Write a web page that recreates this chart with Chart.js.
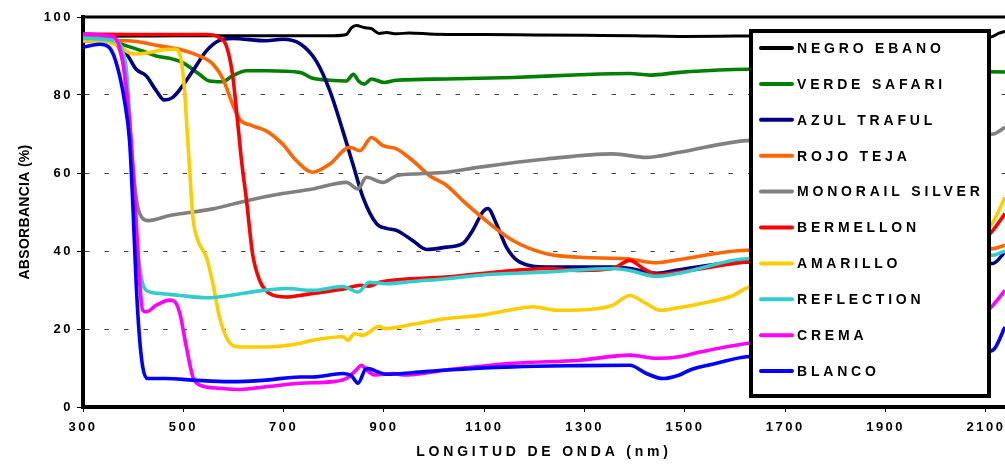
<!DOCTYPE html>
<html>
<head>
<meta charset="utf-8">
<script src="https://cdn.jsdelivr.net/npm/chart.js@4/dist/chart.umd.min.js"></script>
<style>
html,body{margin:0;padding:0;background:#fff;}
#wrap{width:1005px;height:466px;}
</style>
</head>
<body>
<div id="wrap"><canvas id="c" width="1005" height="466"></canvas></div>
<script>
// ---- tick labels / titles ----
const xTicks = [300, 500, 700, 900, 1100, 1300, 1500, 1700, 1900, 2100];
const yTicks = [0, 20, 40, 60, 80, 100];
const xTitle = 'LONGITUD DE ONDA (nm)';
const yTitle = 'ABSORBANCIA (%)';
const seriesNames = ['NEGRO EBANO','VERDE SAFARI','AZUL TRAFUL','ROJO TEJA','MONORAIL SILVER','BERMELLON','AMARILLO','REFLECTION','CREMA','BLANCO'];

// ---- series (wavelength nm / absorbance %) ----
const negroX = [300,400,500,600,700,800,825,835,845,860,875,890,905,925,950,1000,1100,1200,1300,1400,1500,1600,1700,1900,2080,2110,2125,2138];
const negroY = [95.0,95.1,95.2,95.2,95.2,95.2,95.5,97.2,97.8,97.3,97.0,95.8,96.0,95.7,95.9,95.6,95.5,95.4,95.3,95.2,95.0,95.1,95.2,95.3,95.2,94.9,95.8,96.3];

const verdeX = [300,350,387,420,446,479,499,532,552,578,598,626,666,732,758,792,825,839,850,861,875,901,925,1025,1157,1290,1390,1430,1489,1623,1800,2000,2138];
const verdeY = [94.5,94.0,92.6,91.2,90.0,89.2,88.3,85.3,83.6,83.4,84.9,86.2,86.2,85.8,84.3,83.8,83.6,85.3,83.5,82.8,84.1,83.2,83.8,84.1,84.5,85.2,85.5,85.1,85.8,86.6,86.5,86.2,85.9];

const azulX = [300,350,387,406,426,446,462,479,496,519,546,572,598,665,698,732,765,792,818,838,858,885,905,925,957,985,1025,1057,1077,1097,1107,1124,1144,1170,1224,1356,1390,1444,1489,1623,1800,2000,2114,2138];
const azulY = [94.5,94.0,90.5,86.6,84.9,81.1,78.7,79.4,81.9,86.2,91.3,94.0,94.5,93.9,94.3,93.2,88.7,81.1,70.8,62.3,53.8,47.0,45.8,45.3,42.7,40.4,41.0,41.9,45.3,50.0,50.9,47.0,41.0,37.2,35.9,35.9,35.5,34.3,35.2,37.2,37.0,36.5,36.8,39.8];

const rojoX = [300,387,453,499,532,559,579,598,612,638,665,698,725,758,792,832,852,875,898,925,957,991,1025,1057,1091,1157,1224,1290,1384,1444,1489,1623,1800,2000,2114,2138];
const rojoY = [93.8,93.9,92.6,91.5,90.0,87.9,84.1,77.7,73.8,72.1,70.8,67.4,63.2,60.2,62.3,66.6,65.7,69.1,67.0,66.2,63.2,59.3,56.8,52.9,49.1,42.7,39.3,38.4,38.0,37.0,37.8,40.2,40.3,40.0,40.6,41.5];

const silverX = [300,350,380,390,399,408,418,430,473,559,626,692,758,825,848,865,898,925,971,1025,1091,1224,1356,1423,1489,1623,1800,2000,2114,2138];
const silverY = [95.0,94.5,88.0,75.0,62.0,52.0,48.5,47.8,49.1,50.8,52.9,54.6,55.9,57.6,55.9,58.9,57.6,59.3,59.8,60.2,61.5,63.6,64.9,64.0,65.3,68.3,68.8,69.3,70.0,71.7];

const bermellonX = [300,400,500,546,572,586,598,608,616,626,638,652,672,705,732,758,825,852,870,891,1025,1157,1224,1290,1356,1390,1417,1444,1489,1623,1800,2000,2080,2114,2138];
const bermellonY = [95.6,95.5,95.5,95.5,94.7,92.5,85.3,73.4,63.2,52.9,39.3,32.5,29.1,28.2,28.6,29.1,30.4,31.2,31.0,32.0,33.3,35.0,35.5,35.0,35.5,37.6,35.5,34.0,34.6,37.2,38.0,39.0,41.0,45.3,49.6];

const amarilloX = [300,367,400,433,466,486,496,502,508,512,519,529,546,559,572,589,612,665,732,758,818,828,841,858,891,901,957,1025,1091,1157,1197,1244,1323,1356,1390,1423,1450,1489,1530,1596,1623,1800,2000,2080,2114,2138];
const amarilloY = [94.0,93.0,90.5,90.9,91.7,91.7,88.7,81.9,70.0,62.0,48.7,42.7,38.4,31.6,23.1,17.1,15.4,15.4,16.3,17.1,18.0,17.1,18.8,18.4,20.7,20.1,21.2,22.7,23.5,25.0,25.7,24.8,25.2,26.1,28.6,26.5,24.8,25.5,26.5,28.6,30.5,34.0,38.0,42.0,47.4,53.8];

const reflectionX = [300,360,385,399,406,416,426,453,493,546,592,659,705,758,818,848,871,905,957,1025,1091,1224,1356,1390,1444,1489,1623,1800,2000,2114,2138];
const reflectionY = [94.5,94.0,88.0,60.0,45.0,33.3,29.9,29.1,28.6,28.0,28.6,29.9,30.4,29.9,30.9,29.5,32.0,31.6,32.2,32.9,33.8,34.6,35.5,35.0,33.5,34.3,38.0,38.3,38.5,38.9,40.0];

const cremaX = [300,360,380,395,405,413,419,426,446,473,483,493,506,519,533,572,612,665,732,798,825,845,855,865,881,918,938,1025,1157,1290,1390,1444,1489,1530,1623,1800,2000,2080,2114,2138];
const cremaY = [95.6,95.0,88.0,70.0,50.0,32.0,24.8,24.4,26.1,27.4,27.0,24.0,15.4,7.7,5.6,4.8,4.5,5.2,6.1,6.5,7.3,9.5,10.7,9.5,8.2,8.6,8.2,9.5,11.2,12.0,13.3,12.5,12.9,14.1,16.3,18.0,20.0,22.0,26.1,29.9];

const blancoX = [300,333,353,369,383,393,399,406,412,419,429,466,519,592,665,732,758,818,835,848,865,905,957,1025,1157,1290,1390,1423,1456,1489,1510,1563,1623,1800,2000,2080,2114,2138];
const blancoY = [92.3,93.0,92.1,87.0,78.3,68.0,52.9,31.7,18.8,10.3,7.3,7.3,6.9,6.5,6.9,7.7,7.7,8.6,8.0,6.1,9.9,8.4,8.8,9.5,10.3,10.6,10.7,8.6,7.3,8.2,9.5,11.2,12.9,13.5,13.5,13.8,14.6,20.5];

const colors = ['#000000','#008000','#000080','#FF6600','#808080','#FF0000','#FFCC00','#33CCCC','#FF00FF','#0000FF'];
const allX = [negroX, verdeX, azulX, rojoX, silverX, bermellonX, amarilloX, reflectionX, cremaX, blancoX];
const allY = [negroY, verdeY, azulY, rojoY, silverY, bermellonY, amarilloY, reflectionY, cremaY, blancoY];

const FONT = "'Liberation Sans', Arial, sans-serif";

const datasets = seriesNames.map((name, i) => ({
  label: name,
  data: allX[i].map((x, j) => ({x: x, y: allY[i][j]})),
  borderColor: colors[i],
  backgroundColor: colors[i],
  borderWidth: i === 0 ? 3 : 3.6,
  pointRadius: 0,
  cubicInterpolationMode: 'monotone',
  fill: false,
  order: 10 - i
}));

const customPlugin = {
  id: 'custom',
  beforeDraw(chart) {
    const ctx = chart.ctx;
    ctx.letterSpacing = '2.5px';
    for (const s of Object.values(chart.scales)) {
      if (!s._wrappedTitle) {
        const orig = s.drawTitle;
        const sp = s.axis === 'x' ? '3.8px' : '0.3px';
        s.drawTitle = function () {
          const c = this.ctx;
          const prev = c.letterSpacing;
          c.letterSpacing = sp;
          orig.apply(this, arguments);
          c.letterSpacing = prev;
        };
        s._wrappedTitle = true;
      }
    }
  },
  afterDraw(chart) {
    const ctx = chart.ctx;
    const a = chart.chartArea;
    ctx.save();
    ctx.strokeStyle = '#000';
    ctx.lineWidth = 3;
    ctx.beginPath();
    ctx.moveTo(a.left - 2, a.top);
    ctx.lineTo(a.right, a.top);
    ctx.stroke();
    const lx = 751, ly = 31, lw = 238, lh = 365;
    ctx.fillStyle = '#fff';
    ctx.fillRect(lx, ly, lw, lh);
    ctx.lineWidth = 4;
    ctx.strokeStyle = '#000';
    ctx.strokeRect(lx, ly, lw, lh);
    ctx.font = 'bold 14px ' + FONT;
    ctx.letterSpacing = '3.8px';
    ctx.textBaseline = 'middle';
    ctx.textAlign = 'left';
    chart.data.datasets.forEach((ds, i) => {
      const y = 48 + i * 35.9;
      ctx.strokeStyle = ds.borderColor;
      ctx.lineWidth = 4;
      ctx.lineCap = 'round';
      ctx.beginPath();
      ctx.moveTo(761, y);
      ctx.lineTo(792, y);
      ctx.stroke();
      ctx.fillStyle = '#000';
      ctx.fillText(ds.label, 797, y + 1);
    });
    ctx.restore();
    ctx.letterSpacing = '0px';
  }
};

new Chart(document.getElementById('c'), {
  type: 'line',
  data: { datasets: datasets },
  plugins: [customPlugin],
  options: {
    responsive: false,
    animation: false,
    events: [],
    layout: { padding: { top: 17, right: 0, bottom: 0, left: 0 } },
    plugins: { legend: { display: false }, tooltip: { enabled: false } },
    scales: {
      x: {
        type: 'linear',
        min: 300,
        max: 2138,
        afterBuildTicks: s => { s.ticks = xTicks.map(v => ({ value: v })); },
        afterFit: s => { s.height = 59; s.paddingLeft = 0; s.paddingRight = 0; },
        ticks: {
          color: '#000',
          font: { family: FONT, size: 13, weight: 'bold' },
          padding: 8,
          maxRotation: 0,
          autoSkip: false,
          callback: v => String(v)
        },
        grid: { display: true, drawOnChartArea: false, drawTicks: true, tickLength: 5, tickColor: '#000', tickWidth: 1 },
        border: { display: true, color: '#000', width: 4 },
        title: {
          display: true, text: xTitle, color: '#000',
          font: { family: FONT, size: 14, weight: 'bold' },
          padding: { top: 0, bottom: 5 }
        }
      },
      y: {
        type: 'linear',
        min: 0,
        max: 100,
        afterBuildTicks: s => { s.ticks = yTicks.map(v => ({ value: v })); },
        afterFit: s => { s.width = 83; s.paddingTop = 0; s.paddingBottom = 0; },
        ticks: {
          color: '#000',
          font: { family: FONT, size: 13, weight: 'bold' },
          padding: 4,
          callback: v => String(v)
        },
        grid: {
          display: true,
          drawOnChartArea: true,
          drawTicks: true,
          tickLength: 6,
          tickColor: '#000',
          tickWidth: 1,
          lineWidth: 1,
          color: ctx => (ctx.tick && (ctx.tick.value === 0 || ctx.tick.value === 100)) ? 'rgba(0,0,0,0)' : '#444'
        },
        border: { display: true, color: '#000', width: 4, dash: [4.5, 15] },
        title: {
          display: true, text: yTitle, color: '#000',
          font: { family: FONT, size: 14, weight: 'bold' },
          padding: { top: 17, bottom: 0 }
        }
      }
    }
  }
});
</script>
</body>
</html>
